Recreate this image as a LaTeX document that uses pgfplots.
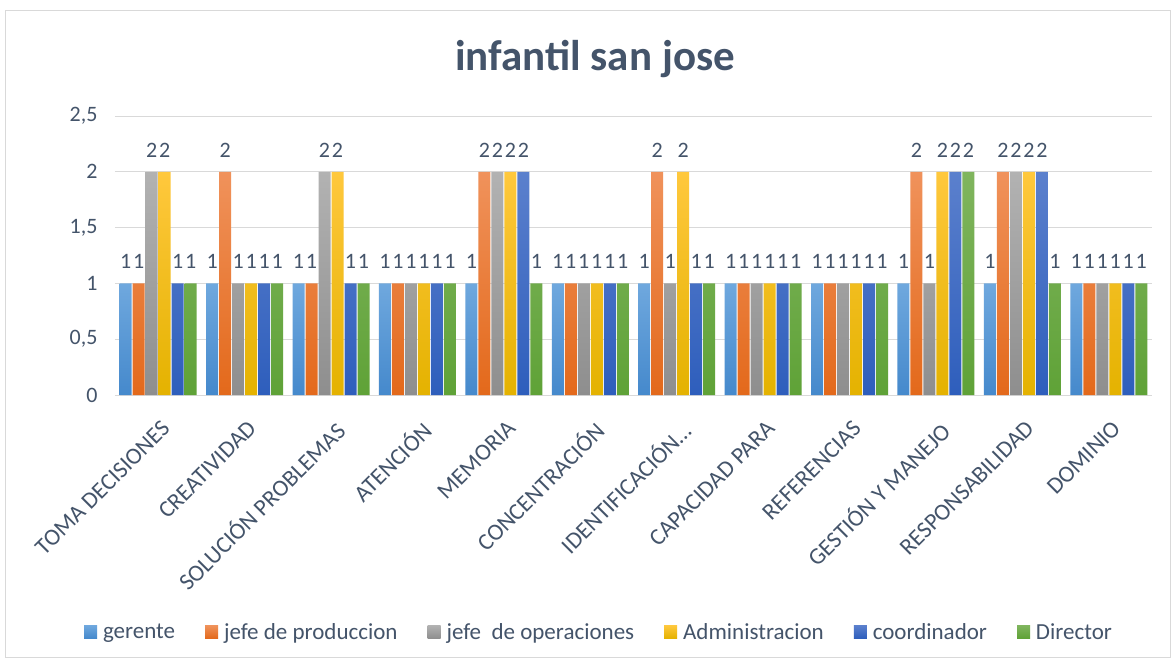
\documentclass[border=0pt]{standalone}
\usepackage{fontspec}
\setmainfont{Carlito}
\usepackage{pgfplots}
\pgfplotsset{compat=1.18}
\definecolor{txt}{HTML}{44546A}
\definecolor{gridc}{HTML}{D9D9D9}
\definecolor{c1t}{HTML}{6FA8DE}\definecolor{c1b}{HTML}{4589CC}
\definecolor{c2t}{HTML}{F0925B}\definecolor{c2b}{HTML}{E3691B}
\definecolor{c3t}{HTML}{B2B2B2}\definecolor{c3b}{HTML}{8E8E8E}
\definecolor{c4t}{HTML}{FFC83D}\definecolor{c4b}{HTML}{E4B200}
\definecolor{c5t}{HTML}{5B80CD}\definecolor{c5b}{HTML}{2E5EBC}
\definecolor{c6t}{HTML}{80B55E}\definecolor{c6b}{HTML}{5FA237}
\begin{document}
\begin{tikzpicture}[x=1pt,y=1pt]
\useasboundingbox (0,0) rectangle (1176,665);
\fill[white] (0,0) rectangle (1176,665);
\draw[gridc, line width=1pt] (5.5,8) rectangle (1170.5,654);
\node[anchor=base, font=\fontsize{43}{51}\selectfont\bfseries, text=txt] at (595,594) {infantil san jose};
\begin{axis}[
  at={(115pt,270pt)}, anchor=south west,
  scale only axis, width=1037pt, height=279pt,
  ybar=1pt, bar width=12pt,
  xmin=-0.5, xmax=11.5, ymin=0, ymax=2.5,
  xtick={0,...,11},
  xticklabels={TOMA DECISIONES, CREATIVIDAD, SOLUCIÓN PROBLEMAS, ATENCIÓN, MEMORIA, CONCENTRACIÓN, IDENTIFICACIÓN…, CAPACIDAD PARA, REFERENCIAS, GESTIÓN Y MANEJO, RESPONSABILIDAD, DOMINIO},
  ytick={0,0.5,1,1.5,2,2.5},
  /pgf/number format/use comma,
  /pgf/number format/assume math mode=true,
  tick label style={font=\fontsize{22}{26}\selectfont, text=txt},
  xticklabel style={font=\fontsize{23.5}{28}\selectfont, xshift=2pt, yshift=-24pt, rotate=45, anchor=north east, inner sep=0pt},
  yticklabel style={xshift=-14pt},
  ymajorgrids, major grid style={draw=gridc, line width=1pt},
  axis line style={draw=none}, major tick length=0pt,
  nodes near coords,
  nodes near coords style={font=\fontsize{22}{26}\selectfont, text=txt, yshift=11pt},
  legend columns=6,
  legend style={at={(0.4667,-0.849)}, anchor=center, draw=none, fill=none,
    font=\fontsize{23}{28}\selectfont, text=txt,
    /tikz/every even column/.append style={column sep=28pt}},
  legend image code/.code={\path[#1, draw=none] (0pt,-6.5pt) rectangle (13pt,6.5pt); \path (0pt,0pt) -- (17pt,0pt);},
]
\addplot[draw=none, top color=c1t, bottom color=c1b] coordinates {(0,1)(1,1)(2,1)(3,1)(4,1)(5,1)(6,1)(7,1)(8,1)(9,1)(10,1)(11,1)};
\addplot[draw=none, top color=c2t, bottom color=c2b] coordinates {(0,1)(1,2)(2,1)(3,1)(4,2)(5,1)(6,2)(7,1)(8,1)(9,2)(10,2)(11,1)};
\addplot[draw=none, top color=c3t, bottom color=c3b] coordinates {(0,2)(1,1)(2,2)(3,1)(4,2)(5,1)(6,1)(7,1)(8,1)(9,1)(10,2)(11,1)};
\addplot[draw=none, top color=c4t, bottom color=c4b] coordinates {(0,2)(1,1)(2,2)(3,1)(4,2)(5,1)(6,2)(7,1)(8,1)(9,2)(10,2)(11,1)};
\addplot[draw=none, top color=c5t, bottom color=c5b] coordinates {(0,1)(1,1)(2,1)(3,1)(4,2)(5,1)(6,1)(7,1)(8,1)(9,2)(10,2)(11,1)};
\addplot[draw=none, top color=c6t, bottom color=c6b] coordinates {(0,1)(1,1)(2,1)(3,1)(4,1)(5,1)(6,1)(7,1)(8,1)(9,2)(10,1)(11,1)};
\legend{gerente, jefe de produccion, jefe\ \ de operaciones, Administracion, coordinador, Director}
\end{axis}
\end{tikzpicture}
\end{document}
